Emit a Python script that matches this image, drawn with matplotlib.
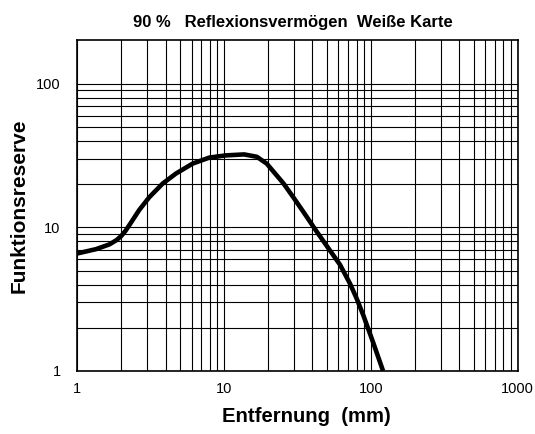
import matplotlib
matplotlib.use("Agg")
import matplotlib.pyplot as plt
from matplotlib.ticker import FixedLocator, NullFormatter

plt.rcParams['font.family'] = ['Liberation Sans', 'DejaVu Sans']

# Data
distance_mm = [1.0, 1.34, 1.65, 1.85, 1.99, 2.12, 2.26, 2.64, 3.09, 3.82, 4.7,
               6.11, 7.93, 10.3, 13.7, 16.7, 19.5, 25.3, 29.6, 34.7, 42.7,
               50.0, 61.6, 72.1, 80.0, 88.8, 104.0, 121.0]
reserve = [6.58, 7.05, 7.6, 8.15, 8.7, 9.4, 10.35, 13.2, 16.2, 20.2, 23.7,
           27.8, 30.6, 31.7, 32.2, 31.0, 27.8, 20.3, 16.2, 12.8, 9.35,
           7.43, 5.49, 4.05, 3.19, 2.44, 1.56, 1.0]

x_ticks = [1, 10, 100, 1000]
x_ticklabels = ["1", "10", "100", "1000"]
y_ticks = [1, 10, 100]
y_ticklabels = ["1", "10", "100"]

title = "90 %   Reflexionsvermögen  Weiße Karte"
xlabel = "Entfernung  (mm)"
ylabel = "Funktionsreserve"

fig = plt.figure(figsize=(5.35, 4.34), dpi=100)
ax = fig.add_axes([0.1445, 0.1452, 0.8232, 0.7615])
ax.set_xscale('log')
ax.set_yscale('log')
ax.set_xlim(1, 1000)
ax.set_ylim(1, 200)

# grid
x_minor = [m * 10 ** d for d in range(0, 3) for m in range(2, 10)]
y_minor = [m * 10 ** d for d in range(0, 2) for m in range(2, 10)]
for v in x_ticks + x_minor:
    ax.axvline(v, color='black', lw=0.8, zorder=1)
for v in y_ticks + y_minor:
    ax.axhline(v, color='black', lw=0.8, zorder=1)

ax.plot(distance_mm, reserve, color='black', lw=3.3, solid_capstyle='butt',
        solid_joinstyle='round', zorder=3)

ax.xaxis.set_major_locator(FixedLocator(x_ticks))
ax.yaxis.set_major_locator(FixedLocator(y_ticks))
ax.xaxis.set_minor_locator(FixedLocator(x_minor))
ax.yaxis.set_minor_locator(FixedLocator(y_minor))
ax.xaxis.set_minor_formatter(NullFormatter())
ax.yaxis.set_minor_formatter(NullFormatter())
ax.set_xticklabels(x_ticklabels)
ax.set_yticklabels(y_ticklabels)
ax.tick_params(which='both', length=0)
ax.tick_params(axis='x', pad=8, labelsize=10.5)
ax.tick_params(axis='y', pad=12, labelsize=10.5)

for s in ax.spines.values():
    s.set_linewidth(1.2)
    s.set_color('black')

ax.set_title(title, fontsize=12, fontweight='bold', pad=9.5, x=0.49)
ax.set_xlabel(xlabel, fontsize=14.6, fontweight='bold', labelpad=8)
ax.xaxis.label.set_x(0.52)
ax.set_ylabel(ylabel, fontsize=15, fontweight='bold', labelpad=5)

fig.savefig("out.png", dpi=100)
